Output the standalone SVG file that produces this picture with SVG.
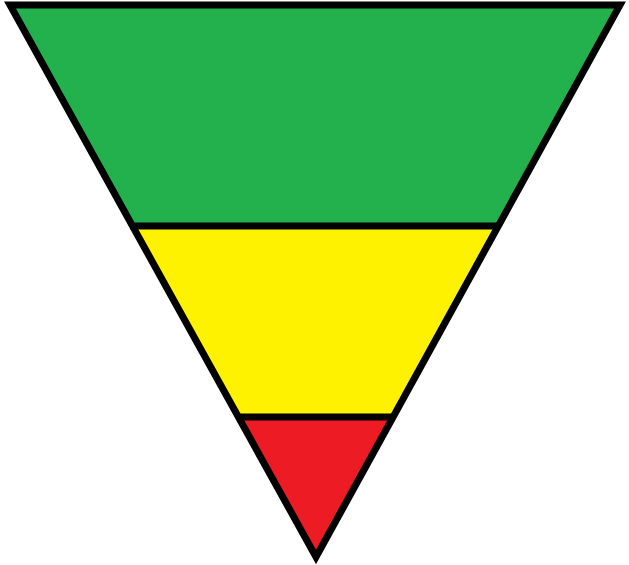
<svg xmlns="http://www.w3.org/2000/svg" width="629" height="565" viewBox="0 0 629 565">
<style>
.band{stroke:none}
.edge{fill:none;stroke:#000;stroke-width:7;stroke-linejoin:miter}
</style>
<rect width="629" height="565" fill="#fff"/>
<g id="green"><polygon class="band" fill="#22B14C" points="10,5 620,5 498,226 132,226"/></g>
<g id="yellow"><polygon class="band" fill="#FFF200" points="132,226 498,226 392,417 240,417"/></g>
<g id="red"><polygon class="band" fill="#ED1C24" points="240,417 392,417 316,557"/></g>
<g id="lines">
<polygon class="edge" points="10,5 620,5 316,557"/>
<line class="edge" x1="130" y1="226" x2="500" y2="226"/>
<line class="edge" x1="238" y1="417" x2="394" y2="417"/>
</g>
</svg>
